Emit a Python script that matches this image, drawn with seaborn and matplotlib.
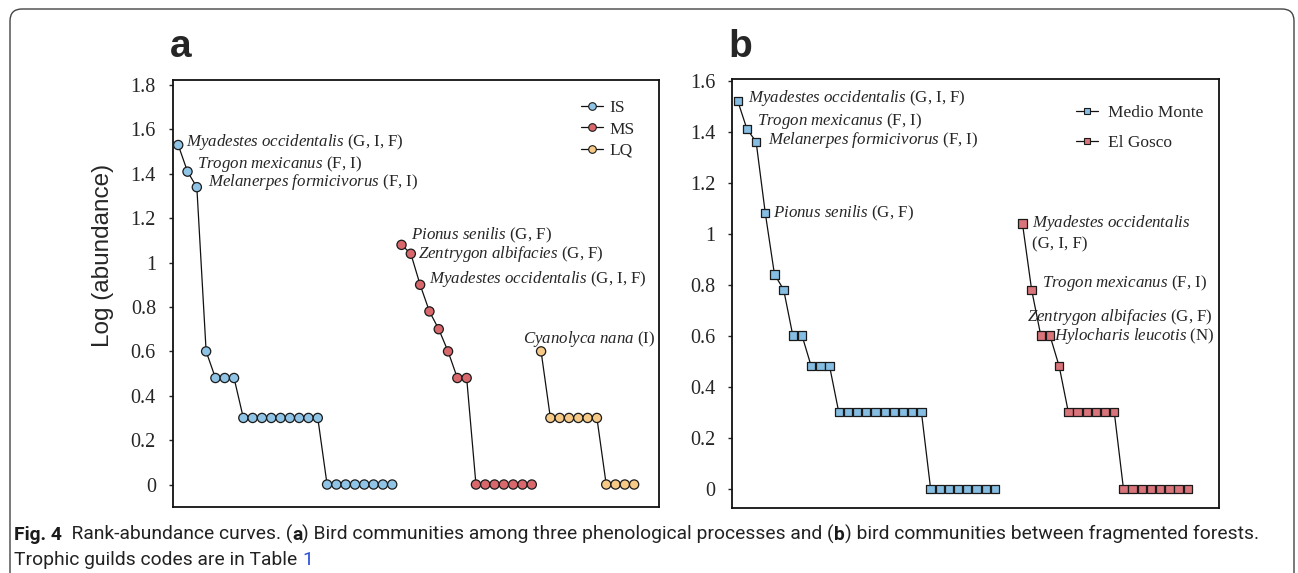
import seaborn as sns
import pandas
import matplotlib
import matplotlib.pyplot as plt
from matplotlib.lines import Line2D
from matplotlib.patches import FancyBboxPatch
from matplotlib.transforms import IdentityTransform

sns.set_style("ticks")
plt.rcParams["font.family"] = ["Liberation Serif", "DejaVu Serif"]
plt.rcParams["mathtext.fontset"] = "custom"
plt.rcParams["mathtext.rm"] = "Liberation Serif"
plt.rcParams["mathtext.it"] = "Liberation Serif:italic"

# panel a: phenological processes
is_vals = [1.53, 1.41, 1.34, 0.60, 0.48, 0.48, 0.48,
           0.30, 0.30, 0.30, 0.30, 0.30, 0.30, 0.30, 0.30, 0.30,
           0, 0, 0, 0, 0, 0, 0, 0]
ms_vals = [1.08, 1.04, 0.90, 0.78, 0.70, 0.60, 0.48, 0.48,
           0, 0, 0, 0, 0, 0, 0]
lq_vals = [0.60, 0.30, 0.30, 0.30, 0.30, 0.30, 0.30, 0, 0, 0, 0]
a_groups = ["IS", "MS", "LQ"]
a_starts = [1, 25, 40]

# panel b: fragmented forests
mm_vals = [1.52, 1.41, 1.36, 1.08, 0.84, 0.78, 0.60, 0.60, 0.48, 0.48, 0.48,
           0.30, 0.30, 0.30, 0.30, 0.30, 0.30, 0.30, 0.30, 0.30, 0.30,
           0, 0, 0, 0, 0, 0, 0, 0]
eg_vals = [1.04, 0.78, 0.60, 0.60, 0.48,
           0.30, 0.30, 0.30, 0.30, 0.30, 0.30,
           0, 0, 0, 0, 0, 0, 0, 0]
b_groups = ["Medio Monte", "El Gosco"]
b_starts = [1, 32]

# species labels: (group, index in series, text, dx px, dy px)
a_labels = [
    ("IS", 0, r"$\mathit{Myadestes\ occidentalis}$ (G, I, F)", 8, 3),
    ("IS", 1, r"$\mathit{Trogon\ mexicanus}$ (F, I)", 9, 8),
    ("IS", 2, r"$\mathit{Melanerpes\ formicivorus}$ (F, I)", 11, 5),
    ("MS", 0, r"$\mathit{Pionus\ senilis}$ (G, F)", 9, 9),
    ("MS", 1, r"$\mathit{Zentrygon\ albifacies}$ (G, F)", 7, 0),
    ("MS", 2, r"$\mathit{Myadestes\ occidentalis}$ (G, I, F)", 9, 6),
    ("LQ", 0, r"$\mathit{Cyanolyca\ nana}$ (I)", -18, 12),
]
b_labels = [
    ("Medio Monte", 0, r"$\mathit{Myadestes\ occidentalis}$ (G, I, F)", 10, 3),
    ("Medio Monte", 1, r"$\mathit{Trogon\ mexicanus}$ (F, I)", 10, 8),
    ("Medio Monte", 2, r"$\mathit{Melanerpes\ formicivorus}$ (F, I)", 12, 2),
    ("Medio Monte", 3, r"$\mathit{Pionus\ senilis}$ (G, F)", 8, 0),
    ("El Gosco", 0, r"$\mathit{Myadestes\ occidentalis}$" + "\n(G, I, F)", 10, 10),
    ("El Gosco", 1, r"$\mathit{Trogon\ mexicanus}$ (F, I)", 10, 7),
    ("El Gosco", 2, r"$\mathit{Zentrygon\ albifacies}$ (G, F)", -14, 19),
    ("El Gosco", 3, r"$\mathit{Hylocharis\ leucotis}$ (N)", 4, 0),
]

a_colors = {"IS": "#8fc4e6", "MS": "#d9686c", "LQ": "#f6c987"}
b_colors = {"Medio Monte": "#86bde2", "El Gosco": "#da747b"}


def make_frame(groups, starts, series):
    rows = []
    for g, s, vals in zip(groups, starts, series):
        for i, v in enumerate(vals):
            rows.append({"group": g, "rank": s + i, "value": v, "idx": i})
    return pandas.DataFrame(rows)


df_a = make_frame(a_groups, a_starts, [is_vals, ms_vals, lq_vals])
df_b = make_frame(b_groups, b_starts, [mm_vals, eg_vals])

fig = plt.figure(figsize=(12.98, 5.73), dpi=100)
ax_a = fig.add_axes([0.1330, 0.1157, 0.3749, 0.7447])
ax_b = fig.add_axes([0.5642, 0.1129, 0.3749, 0.7487])


def draw_panel(ax, df, colors, marker, size, labels):
    sns.lineplot(ax=ax, data=df, x="rank", y="value", units="group",
                 estimator=None, color="#111111", lw=0.9, legend=False)
    sns.scatterplot(ax=ax, data=df, x="rank", y="value", hue="group",
                    palette=colors, marker=marker, s=size, edgecolor="#1a1a1a",
                    linewidth=0.9, legend=False, zorder=3)
    for g, i, txt, dx, dy in labels:
        row = df[(df["group"] == g) & (df["idx"] == i)].iloc[0]
        ax.annotate(txt, xy=(row["rank"], row["value"]), xytext=(dx, dy),
                    textcoords="offset pixels", ha="left",
                    va="top" if "\n" in txt else "center",
                    fontsize=12.2, linespacing=1.25)
    ax.set_xlabel("")
    ax.set_ylabel("")
    ax.set_xticks([])
    for sp in ax.spines.values():
        sp.set_linewidth(1.3)
        sp.set_color("#111111")
    ax.tick_params(axis="y", direction="out", length=3, width=1, pad=9,
                   labelsize=14.5)


draw_panel(ax_a, df_a, a_colors, "o", 44, a_labels)
draw_panel(ax_b, df_b, b_colors, "s", 36, b_labels)

ax_a.set_xlim(0.4, 52.7)
ax_a.set_ylim(-0.1, 1.823)
ax_a.set_yticks([0, 0.2, 0.4, 0.6, 0.8, 1.0, 1.2, 1.4, 1.6, 1.8])
ax_a.set_yticklabels(["0", "0.2", "0.4", "0.6", "0.8", "1", "1.2", "1.4", "1.6", "1.8"])
ax_a.set_ylabel("Log (abundance)", family=["Liberation Sans", "DejaVu Sans"],
                fontsize=17.5)
ax_a.yaxis.set_label_coords(-0.121, 0.59)

ax_b.set_xlim(0.41, 53.4)
ax_b.set_ylim(-0.077, 1.605)
ax_b.set_yticks([0, 0.2, 0.4, 0.6, 0.8, 1.0, 1.2, 1.4, 1.6])
ax_b.set_yticklabels(["0", "0.2", "0.4", "0.6", "0.8", "1", "1.2", "1.4", "1.6"])


def legend_handles(colors, marker, ms):
    return [Line2D([0], [0], color="#111111", lw=0.9, marker=marker,
                   markersize=ms, markerfacecolor=c, markeredgecolor="#1a1a1a",
                   markeredgewidth=0.8, label=g) for g, c in colors.items()]


ax_a.legend(handles=legend_handles(a_colors, "o", 5.5), loc="upper left",
            bbox_to_anchor=(0.839, 0.953), frameon=False, borderpad=0,
            borderaxespad=0, handlelength=1.3, handletextpad=0.35,
            labelspacing=0.3, fontsize=12.5)
ax_b.legend(handles=legend_handles(b_colors, "s", 4.5), loc="upper left",
            bbox_to_anchor=(0.706, 0.94), frameon=False, borderpad=0,
            borderaxespad=0, handlelength=1.3, handletextpad=0.55,
            labelspacing=0.78, fontsize=12.5)

# panel letters
for x, letter in [(0.131, "a"), (0.561, "b")]:
    fig.text(x, 0.9005, letter, fontsize=28, weight="bold", va="baseline",
             family=["Liberation Sans", "DejaVu Sans"])

# caption
cap_font = ["Roboto", "DejaVu Sans"]
line1 = [("Fig. 4", "bold", "#1a1a1a"), ("  Rank-abundance curves. (", "normal", "#222222"),
         ("a", "bold", "#1a1a1a"),
         (") Bird communities among three phenological processes and (", "normal", "#222222"),
         ("b", "bold", "#1a1a1a"),
         (") bird communities between fragmented forests.", "normal", "#222222")]
line2 = [("Trophic guilds codes are in Table ", "normal", "#222222"),
         ("1", "normal", "#2a4fd6")]


def chain(x, y, pieces):
    prev = None
    for txt, weight, color in pieces:
        kw = dict(fontsize=13.85, family=cap_font, weight=weight, color=color,
                  ha="left", va="bottom")
        if prev is None:
            prev = fig.text(x, y, txt, **kw)
        else:
            prev = fig.add_artist(matplotlib.text.Annotation(
                txt, xy=(1, 0), xycoords=prev, **kw))


chain(14 / 1298, 1 - 544 / 573, line1)
chain(14 / 1298, 1 - 569 / 573, line2)

frame = FancyBboxPatch((10, -30), 1284, 594, boxstyle="round,pad=0,rounding_size=12",
                       transform=IdentityTransform(), fill=False, edgecolor="#444444",
                       lw=1.0)
fig.add_artist(frame)

fig.savefig("out.png", dpi=100)
